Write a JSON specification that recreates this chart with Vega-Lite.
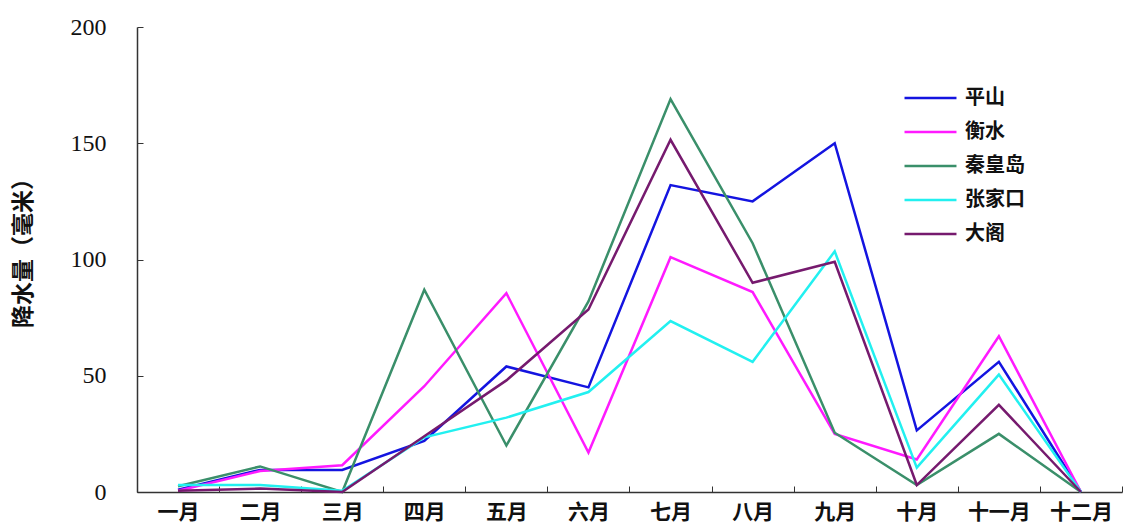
{
  "$schema": "https://vega.github.io/schema/vega-lite/v6.json",
  "width": 985,
  "height": 465,
  "autosize": {"type": "none"},
  "padding": {"left": 137, "top": 27, "right": 1, "bottom": 37},
  "background": "white",
  "config": {"view": {"stroke": null}},
  "data": {"values": [
    {"month": "一月", "station": "平山", "value": 1},
    {"month": "二月", "station": "平山", "value": 9.5},
    {"month": "三月", "station": "平山", "value": 9.5},
    {"month": "四月", "station": "平山", "value": 22},
    {"month": "五月", "station": "平山", "value": 54},
    {"month": "六月", "station": "平山", "value": 45},
    {"month": "七月", "station": "平山", "value": 132},
    {"month": "八月", "station": "平山", "value": 125},
    {"month": "九月", "station": "平山", "value": 150},
    {"month": "十月", "station": "平山", "value": 26.5},
    {"month": "十一月", "station": "平山", "value": 56},
    {"month": "十二月", "station": "平山", "value": 0},
    {"month": "一月", "station": "衡水", "value": 0.5},
    {"month": "二月", "station": "衡水", "value": 9},
    {"month": "三月", "station": "衡水", "value": 11.5},
    {"month": "四月", "station": "衡水", "value": 45.5},
    {"month": "五月", "station": "衡水", "value": 85.5},
    {"month": "六月", "station": "衡水", "value": 17},
    {"month": "七月", "station": "衡水", "value": 101},
    {"month": "八月", "station": "衡水", "value": 86},
    {"month": "九月", "station": "衡水", "value": 25},
    {"month": "十月", "station": "衡水", "value": 14},
    {"month": "十一月", "station": "衡水", "value": 67},
    {"month": "十二月", "station": "衡水", "value": 0},
    {"month": "一月", "station": "秦皇岛", "value": 2.5},
    {"month": "二月", "station": "秦皇岛", "value": 11},
    {"month": "三月", "station": "秦皇岛", "value": 0},
    {"month": "四月", "station": "秦皇岛", "value": 87},
    {"month": "五月", "station": "秦皇岛", "value": 20},
    {"month": "六月", "station": "秦皇岛", "value": 82},
    {"month": "七月", "station": "秦皇岛", "value": 169},
    {"month": "八月", "station": "秦皇岛", "value": 107},
    {"month": "九月", "station": "秦皇岛", "value": 25.5},
    {"month": "十月", "station": "秦皇岛", "value": 3},
    {"month": "十一月", "station": "秦皇岛", "value": 25},
    {"month": "十二月", "station": "秦皇岛", "value": 0},
    {"month": "一月", "station": "张家口", "value": 3},
    {"month": "二月", "station": "张家口", "value": 3},
    {"month": "三月", "station": "张家口", "value": 0.5},
    {"month": "四月", "station": "张家口", "value": 23.5},
    {"month": "五月", "station": "张家口", "value": 32},
    {"month": "六月", "station": "张家口", "value": 43},
    {"month": "七月", "station": "张家口", "value": 73.5},
    {"month": "八月", "station": "张家口", "value": 56},
    {"month": "九月", "station": "张家口", "value": 103.5},
    {"month": "十月", "station": "张家口", "value": 10.5},
    {"month": "十一月", "station": "张家口", "value": 50.5},
    {"month": "十二月", "station": "张家口", "value": 0},
    {"month": "一月", "station": "大阁", "value": 0.5},
    {"month": "二月", "station": "大阁", "value": 1.5},
    {"month": "三月", "station": "大阁", "value": 0},
    {"month": "四月", "station": "大阁", "value": 24},
    {"month": "五月", "station": "大阁", "value": 48},
    {"month": "六月", "station": "大阁", "value": 78.5},
    {"month": "七月", "station": "大阁", "value": 151.5},
    {"month": "八月", "station": "大阁", "value": 90},
    {"month": "九月", "station": "大阁", "value": 99},
    {"month": "十月", "station": "大阁", "value": 3},
    {"month": "十一月", "station": "大阁", "value": 37.5},
    {"month": "十二月", "station": "大阁", "value": 0}
  ]},
  "mark": {"type": "line", "strokeWidth": 2.5},
  "encoding": {
    "x": {
      "field": "month",
      "type": "ordinal",
      "sort": ["一月","二月","三月","四月","五月","六月","七月","八月","九月","十月","十一月","十二月"],
      "scale": {"type": "band", "paddingInner": 0, "paddingOuter": 0},
      "bandPosition": 0.5,
      "axis": {
        "title": null,
        "labelAngle": 0,
        "labelFont": "Noto Sans CJK SC",
        "labelFontSize": 21,
        "labelFontWeight": "bold",
        "labelColor": "#111",
        "tickBand": "extent",
        "tickSize": -6,
        "tickColor": "#333",
        "domainColor": "#333",
        "domainWidth": 1.5,
        "labelPadding": 15,
        "grid": false
      }
    },
    "y": {
      "field": "value",
      "type": "quantitative",
      "scale": {"domain": [0, 200]},
      "axis": {
        "title": "降水量（毫米）",
        "titleFont": "Noto Sans CJK SC",
        "titleFontSize": 23,
        "titleFontWeight": "bold",
        "titleColor": "#111",
        "titlePadding": 35,
        "titleY": 220,
        "values": [0, 50, 100, 150, 200],
        "labelFont": "Liberation Serif",
        "labelFontSize": 24,
        "labelColor": "#111",
        "tickSize": -6,
        "tickColor": "#333",
        "domainColor": "#333",
        "domainWidth": 1.5,
        "labelPadding": 37,
        "grid": false
      }
    },
    "color": {
      "field": "station",
      "type": "nominal",
      "scale": {
        "domain": ["平山", "衡水", "秦皇岛", "张家口", "大阁"],
        "range": ["#1414e0", "#ff1aff", "#3a8f6a", "#22f0f0", "#761a6e"]
      },
      "legend": {
        "title": null,
        "orient": "none",
        "legendX": 766,
        "legendY": 54,
        "symbolType": "stroke",
        "symbolSize": 2700,
        "symbolStrokeWidth": 2.5,
        "labelFont": "Noto Sans CJK SC",
        "labelFontSize": 20,
        "labelFontWeight": "bold",
        "labelColor": "#111",
        "labelOffset": 7,
        "clipHeight": 34,
        "rowPadding": 0
      }
    }
  }
}
